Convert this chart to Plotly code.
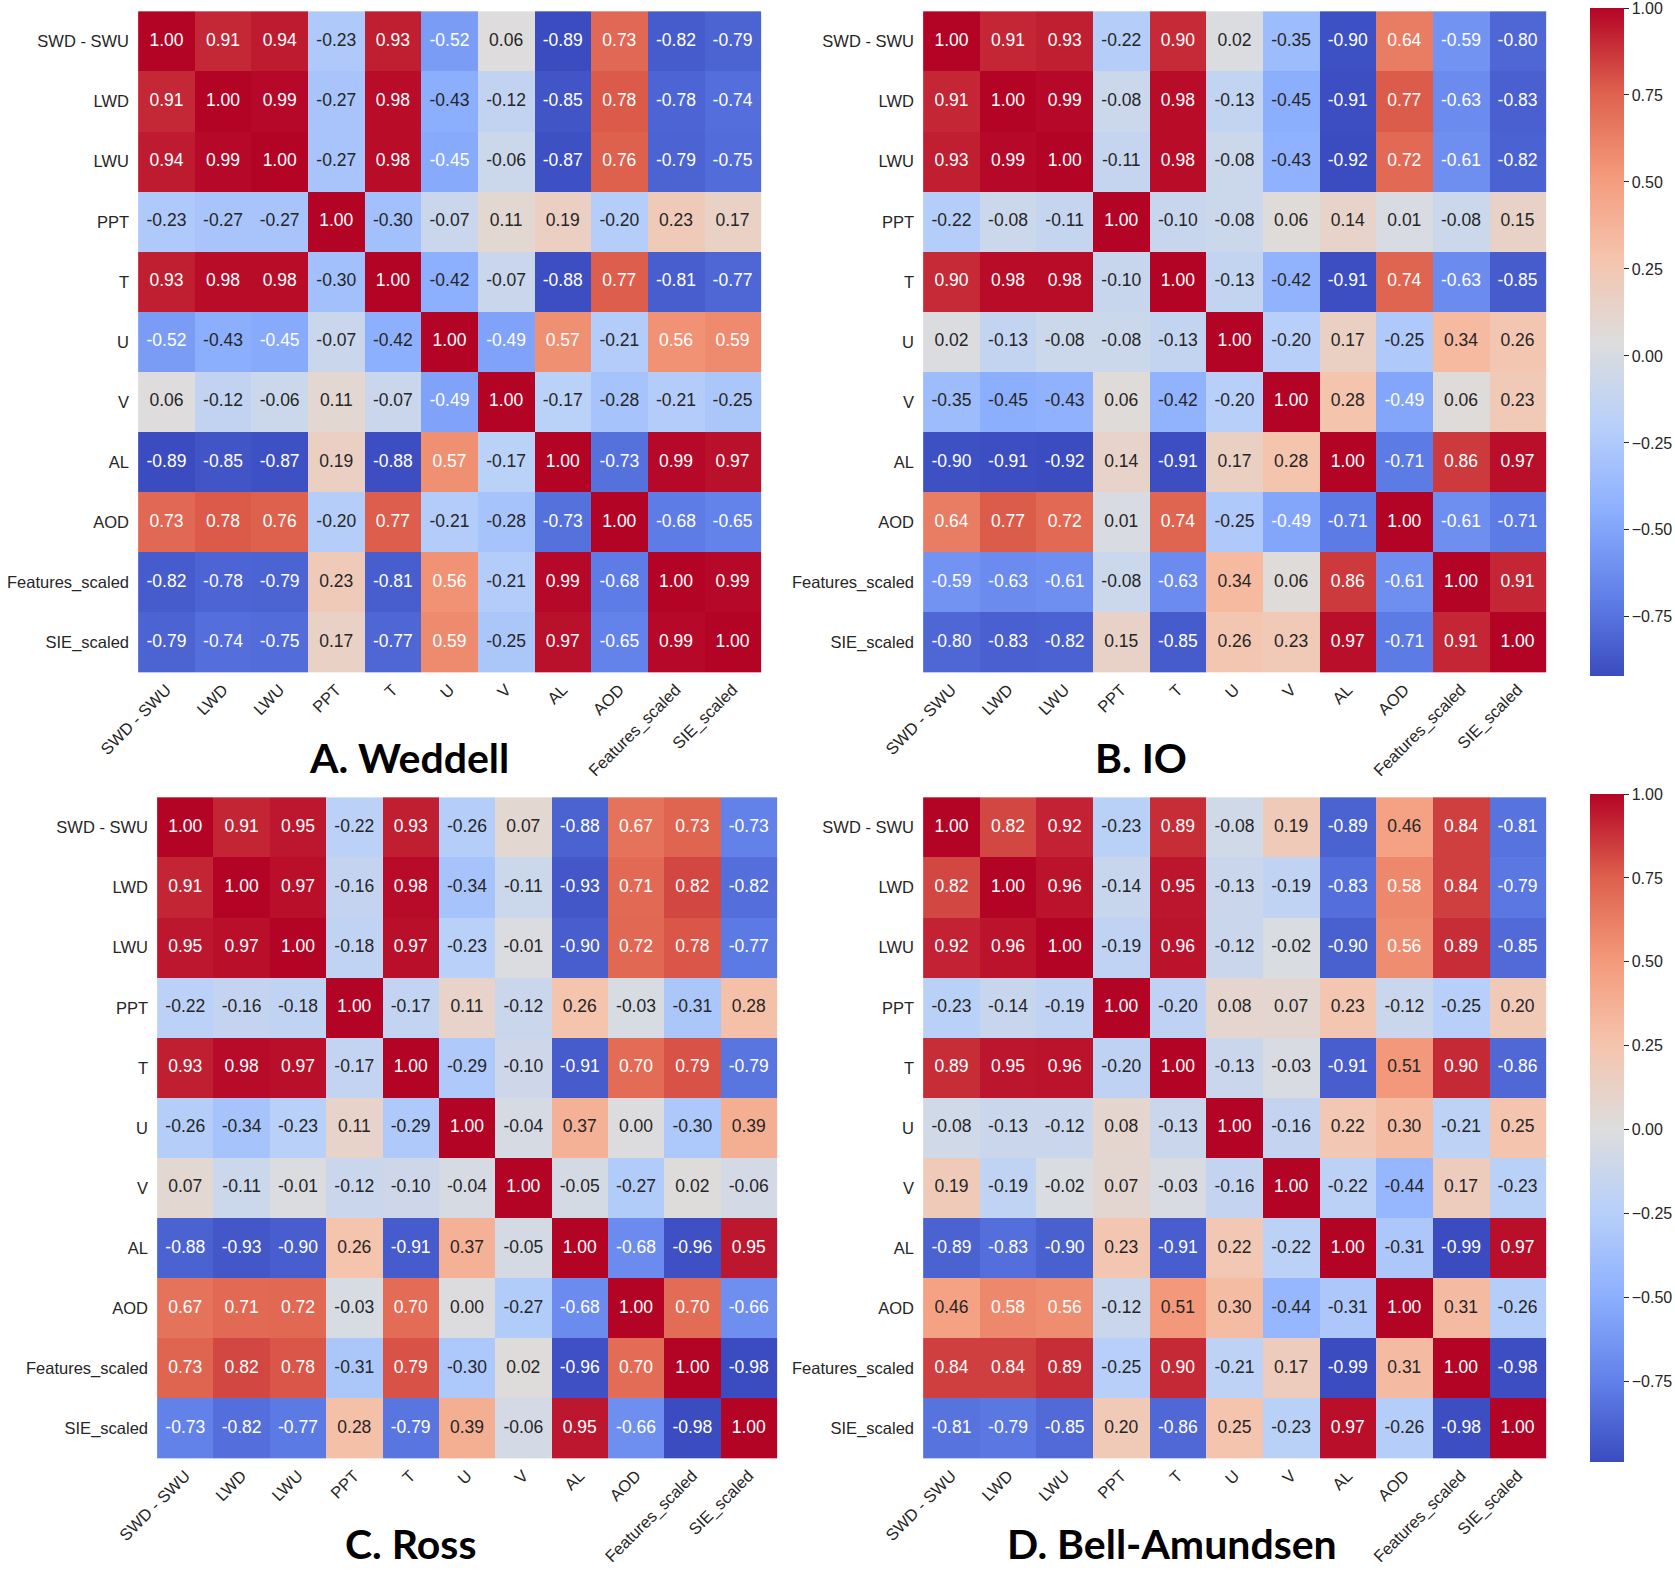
import plotly.graph_objects as go

labels = ["SWD - SWU", "LWD", "LWU", "PPT", "T", "U", "V", "AL", "AOD",
          "Features_scaled", "SIE_scaled"]

weddell = [
    [1.00, 0.91, 0.94, -0.23, 0.93, -0.52, 0.06, -0.89, 0.73, -0.82, -0.79],
    [0.91, 1.00, 0.99, -0.27, 0.98, -0.43, -0.12, -0.85, 0.78, -0.78, -0.74],
    [0.94, 0.99, 1.00, -0.27, 0.98, -0.45, -0.06, -0.87, 0.76, -0.79, -0.75],
    [-0.23, -0.27, -0.27, 1.00, -0.30, -0.07, 0.11, 0.19, -0.20, 0.23, 0.17],
    [0.93, 0.98, 0.98, -0.30, 1.00, -0.42, -0.07, -0.88, 0.77, -0.81, -0.77],
    [-0.52, -0.43, -0.45, -0.07, -0.42, 1.00, -0.49, 0.57, -0.21, 0.56, 0.59],
    [0.06, -0.12, -0.06, 0.11, -0.07, -0.49, 1.00, -0.17, -0.28, -0.21, -0.25],
    [-0.89, -0.85, -0.87, 0.19, -0.88, 0.57, -0.17, 1.00, -0.73, 0.99, 0.97],
    [0.73, 0.78, 0.76, -0.20, 0.77, -0.21, -0.28, -0.73, 1.00, -0.68, -0.65],
    [-0.82, -0.78, -0.79, 0.23, -0.81, 0.56, -0.21, 0.99, -0.68, 1.00, 0.99],
    [-0.79, -0.74, -0.75, 0.17, -0.77, 0.59, -0.25, 0.97, -0.65, 0.99, 1.00],
]

io = [
    [1.00, 0.91, 0.93, -0.22, 0.90, 0.02, -0.35, -0.90, 0.64, -0.59, -0.80],
    [0.91, 1.00, 0.99, -0.08, 0.98, -0.13, -0.45, -0.91, 0.77, -0.63, -0.83],
    [0.93, 0.99, 1.00, -0.11, 0.98, -0.08, -0.43, -0.92, 0.72, -0.61, -0.82],
    [-0.22, -0.08, -0.11, 1.00, -0.10, -0.08, 0.06, 0.14, 0.01, -0.08, 0.15],
    [0.90, 0.98, 0.98, -0.10, 1.00, -0.13, -0.42, -0.91, 0.74, -0.63, -0.85],
    [0.02, -0.13, -0.08, -0.08, -0.13, 1.00, -0.20, 0.17, -0.25, 0.34, 0.26],
    [-0.35, -0.45, -0.43, 0.06, -0.42, -0.20, 1.00, 0.28, -0.49, 0.06, 0.23],
    [-0.90, -0.91, -0.92, 0.14, -0.91, 0.17, 0.28, 1.00, -0.71, 0.86, 0.97],
    [0.64, 0.77, 0.72, 0.01, 0.74, -0.25, -0.49, -0.71, 1.00, -0.61, -0.71],
    [-0.59, -0.63, -0.61, -0.08, -0.63, 0.34, 0.06, 0.86, -0.61, 1.00, 0.91],
    [-0.80, -0.83, -0.82, 0.15, -0.85, 0.26, 0.23, 0.97, -0.71, 0.91, 1.00],
]

ross = [
    [1.00, 0.91, 0.95, -0.22, 0.93, -0.26, 0.07, -0.88, 0.67, 0.73, -0.73],
    [0.91, 1.00, 0.97, -0.16, 0.98, -0.34, -0.11, -0.93, 0.71, 0.82, -0.82],
    [0.95, 0.97, 1.00, -0.18, 0.97, -0.23, -0.01, -0.90, 0.72, 0.78, -0.77],
    [-0.22, -0.16, -0.18, 1.00, -0.17, 0.11, -0.12, 0.26, -0.03, -0.31, 0.28],
    [0.93, 0.98, 0.97, -0.17, 1.00, -0.29, -0.10, -0.91, 0.70, 0.79, -0.79],
    [-0.26, -0.34, -0.23, 0.11, -0.29, 1.00, -0.04, 0.37, 0.00, -0.30, 0.39],
    [0.07, -0.11, -0.01, -0.12, -0.10, -0.04, 1.00, -0.05, -0.27, 0.02, -0.06],
    [-0.88, -0.93, -0.90, 0.26, -0.91, 0.37, -0.05, 1.00, -0.68, -0.96, 0.95],
    [0.67, 0.71, 0.72, -0.03, 0.70, 0.00, -0.27, -0.68, 1.00, 0.70, -0.66],
    [0.73, 0.82, 0.78, -0.31, 0.79, -0.30, 0.02, -0.96, 0.70, 1.00, -0.98],
    [-0.73, -0.82, -0.77, 0.28, -0.79, 0.39, -0.06, 0.95, -0.66, -0.98, 1.00],
]

bell_amundsen = [
    [1.00, 0.82, 0.92, -0.23, 0.89, -0.08, 0.19, -0.89, 0.46, 0.84, -0.81],
    [0.82, 1.00, 0.96, -0.14, 0.95, -0.13, -0.19, -0.83, 0.58, 0.84, -0.79],
    [0.92, 0.96, 1.00, -0.19, 0.96, -0.12, -0.02, -0.90, 0.56, 0.89, -0.85],
    [-0.23, -0.14, -0.19, 1.00, -0.20, 0.08, 0.07, 0.23, -0.12, -0.25, 0.20],
    [0.89, 0.95, 0.96, -0.20, 1.00, -0.13, -0.03, -0.91, 0.51, 0.90, -0.86],
    [-0.08, -0.13, -0.12, 0.08, -0.13, 1.00, -0.16, 0.22, 0.30, -0.21, 0.25],
    [0.19, -0.19, -0.02, 0.07, -0.03, -0.16, 1.00, -0.22, -0.44, 0.17, -0.23],
    [-0.89, -0.83, -0.90, 0.23, -0.91, 0.22, -0.22, 1.00, -0.31, -0.99, 0.97],
    [0.46, 0.58, 0.56, -0.12, 0.51, 0.30, -0.44, -0.31, 1.00, 0.31, -0.26],
    [0.84, 0.84, 0.89, -0.25, 0.90, -0.21, 0.17, -0.99, 0.31, 1.00, -0.98],
    [-0.81, -0.79, -0.85, 0.20, -0.86, 0.25, -0.23, 0.97, -0.26, -0.98, 1.00],
]

titles = ["A. Weddell", "B. IO", "C. Ross", "D. Bell-Amundsen"]
colorbar_ticks = [1.0, 0.75, 0.5, 0.25, 0.0, -0.25, -0.5, -0.75]

# matplotlib "coolwarm", sampled
coolwarm_rgb = [
    (59, 76, 192), (98, 130, 234), (141, 176, 254), (184, 208, 249),
    (221, 221, 221), (245, 196, 173), (244, 154, 123), (222, 96, 77),
    (180, 4, 38),
]
coolwarm = [[i / 8, "rgb({},{},{})".format(*c)] for i, c in enumerate(coolwarm_rgb)]


def cmap(t):
  t = min(max(t, 0.0), 1.0) * 8
  i = min(int(t), 7)
  f = t - i
  a, b = coolwarm_rgb[i], coolwarm_rgb[i + 1]
  return [(a[k] + (b[k] - a[k]) * f) / 255.0 for k in range(3)]


def text_color(v, zmin, zmax):
  # same rule seaborn uses for annot colours
  rgb = cmap((v - zmin) / (zmax - zmin))
  lin = [c / 12.92 if c <= 0.03928 else ((c + 0.055) / 1.055) ** 2.4 for c in rgb]
  lum = 0.2126 * lin[0] + 0.7152 * lin[1] + 0.0722 * lin[2]
  return "#262626" if lum > 0.408 else "white"


W, H = 1675, 1572


def fx(px):
  return px / W


def fy(px):
  return 1 - px / H


# pixel boxes of the four heatmaps: (left, right, top, bottom)
boxes = [(135, 764, 8, 676), (920, 1549, 8, 676),
         (154, 780, 794, 1462), (920, 1549, 794, 1462)]
title_pos = [(409, 757), (1141, 757), (410, 1543), (1172, 1543)]
show_cb = [False, True, False, True]

fig = go.Figure()
mats = [weddell, io, ross, bell_amundsen]
font = "Liberation Sans, Arial, sans-serif"

for n, mat in enumerate(mats):
  ax = "" if n == 0 else str(n + 1)
  zmin = min(min(r) for r in mat)
  zmax = 1.0
  l, r, t, b = boxes[n]
  fig.add_trace(go.Heatmap(
    z=mat, x=labels, y=labels, zmin=zmin, zmax=zmax, colorscale=coolwarm,
    xaxis="x" + ax, yaxis="y" + ax, showscale=show_cb[n],
    colorbar=dict(x=fx(1589.5), xanchor="left", xpad=0, y=fy(t), yanchor="top",
                  ypad=0, len=(b - t) / H, lenmode="fraction", thickness=34,
                  outlinewidth=0, tickvals=colorbar_ticks, tickformat=".2f",
                  ticks="outside", ticklen=5, tickcolor="#262626",
                  ticklabeloverflow="allow",
                  tickfont=dict(family=font, size=16, color="#262626"))))
  xs, ys, txt, cols = [], [], [], []
  for i, row in enumerate(mat):
    for j, v in enumerate(row):
      xs.append(labels[j])
      ys.append(labels[i])
      txt.append("{:.2f}".format(v))
      cols.append(text_color(v, zmin, zmax))
  fig.add_trace(go.Scatter(
    x=xs, y=ys, text=txt, mode="text", xaxis="x" + ax, yaxis="y" + ax,
    textfont=dict(family=font, size=17.5, color=cols), showlegend=False,
    hoverinfo="skip"))
  fig.layout["xaxis" + ax] = dict(
    domain=[fx(l), fx(r)], anchor="y" + ax, tickangle=-45, showgrid=False,
    zeroline=False, ticks="", automargin=False,
    tickfont=dict(family=font, size=16.5, color="#262626"))
  fig.layout["yaxis" + ax] = dict(
    domain=[fy(b), fy(t)], anchor="x" + ax, autorange="reversed",
    showgrid=False, zeroline=False, ticks="", ticklabelstandoff=5, automargin=False,
    tickfont=dict(family=font, size=16.5, color="#262626"))
  tx, ty = title_pos[n]
  fig.add_annotation(x=fx(tx), y=fy(ty), xref="paper", yref="paper",
                     xanchor="center", yanchor="middle",
                     text="<b>" + titles[n] + "</b>", showarrow=False,
                     font=dict(family="Lato, Open Sans, sans-serif", size=41, color="black"))

fig.update_layout(width=W, height=H,
                  margin=dict(l=0, r=0, t=0, b=0, autoexpand=False),
                  plot_bgcolor="white", paper_bgcolor="white", showlegend=False)
# drop the browser's default 8px body margin so the figure sits at the page corner
fig.write_html("out.html", config={"displayModeBar": False},
               post_script="document.body.style.margin='0';"
                           "document.documentElement.style.overflow='hidden';")
